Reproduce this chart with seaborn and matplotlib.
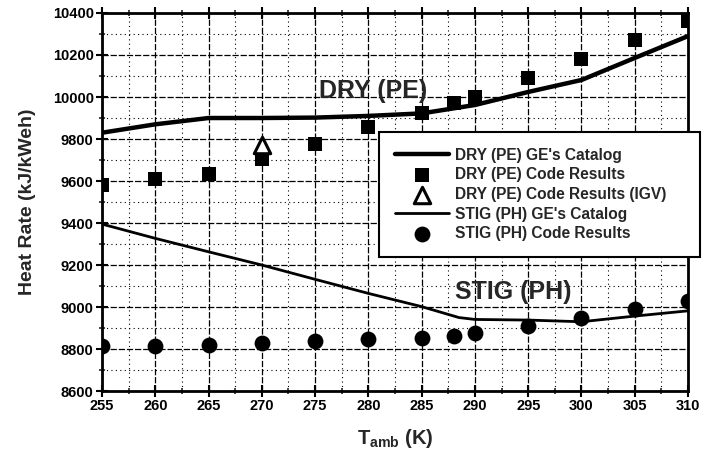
import matplotlib
matplotlib.use("Agg")
import matplotlib.pyplot as plt
import seaborn as sns
import numpy as np
import pandas as pd
from matplotlib.ticker import MultipleLocator

# ---- data ----
dry_cat_T = [255, 260, 265, 270, 275, 280, 285, 290, 295, 300, 305, 310]
dry_cat_HR = [9830, 9870, 9900, 9900, 9902, 9910, 9922, 9962, 10024, 10081, 10186, 10290]

stig_cat_T = [255, 260, 265, 270, 275, 280, 285, 288.5, 290, 295, 300, 305, 310]
stig_cat_HR = [9395, 9327, 9263, 9200, 9132, 9065, 9002, 8950, 8941, 8938, 8930, 8957, 8982]

code_T = [255, 260, 265, 270, 275, 280, 285, 288, 290, 295, 300, 305, 310]
dry_code_HR = [9580, 9610, 9635, 9705, 9775, 9855, 9925, 9970, 10002, 10089, 10180, 10271, 10363]
stig_code_HR = [8815, 8815, 8820, 8830, 8840, 8850, 8855, 8860, 8875, 8910, 8950, 8990, 9030]

igv_T = [270]
igv_HR = [9770]

x_ticks = [255, 260, 265, 270, 275, 280, 285, 290, 295, 300, 305, 310]
y_ticks = [8600, 8800, 9000, 9200, 9400, 9600, 9800, 10000, 10200, 10400]

sns.set_theme(style="ticks")
plt.rcParams['font.family'] = ['Liberation Sans', 'DejaVu Sans']
plt.rcParams['font.weight'] = 'bold'

fig = plt.figure(figsize=(7.11, 4.59), dpi=100)
ax = fig.add_axes([0.1435, 0.148, 0.8242, 0.8237])

sns.lineplot(x=dry_cat_T, y=dry_cat_HR, ax=ax, color='black', lw=3.2,
             label="DRY (PE) GE's Catalog", zorder=5)
sns.scatterplot(x=code_T, y=dry_code_HR, ax=ax, marker='s', s=100, color='black',
                edgecolor='black', linewidth=0, label="DRY (PE) Code Results", zorder=6)
sns.scatterplot(x=igv_T, y=igv_HR, ax=ax, marker='^', s=140, facecolor='white',
                edgecolor='black', linewidth=2.2, label="DRY (PE) Code Results (IGV)", zorder=7)
sns.lineplot(x=stig_cat_T, y=stig_cat_HR, ax=ax, color='black', lw=2.0,
             label="STIG (PH) GE's Catalog", zorder=5)
sns.scatterplot(x=code_T, y=stig_code_HR, ax=ax, marker='o', s=130, color='black',
                edgecolor='black', linewidth=0, label="STIG (PH) Code Results", zorder=6)

ax.set_xlim(255, 310)
ax.set_ylim(8600, 10400)
ax.set_xticks(x_ticks)
ax.set_yticks(y_ticks)
ax.set_xticklabels([str(t) for t in x_ticks])
ax.set_yticklabels([str(t) for t in y_ticks])
ax.xaxis.set_minor_locator(MultipleLocator(2.5))
ax.yaxis.set_minor_locator(MultipleLocator(100))

ax.grid(True, which='major', color='black', lw=0.9, linestyle=(0, (5, 1.5)))
ax.grid(True, which='minor', color='black', lw=0.8, linestyle=(0, (1, 3)))

for s in ax.spines.values():
    s.set_linewidth(2.0)
    s.set_color('black')

ax.tick_params(axis='both', which='major', direction='inout', length=8, width=1.5,
               labelsize=10.5, colors='black', pad=2)
ax.tick_params(axis='both', which='minor', direction='inout', length=5, width=1.2)
ax.tick_params(axis='x', which='both', top=True)
for lab in ax.get_xticklabels() + ax.get_yticklabels():
    lab.set_fontweight('bold')

ax.set_xlabel(r'T$_{\mathregular{amb}}$ (K)', fontsize=14.5, fontweight='bold', labelpad=10)
ax.set_ylabel('Heat Rate (kJ/kWeh)', fontsize=14, fontweight='bold', labelpad=12)

ax.text(280.4, 10030, 'DRY (PE)', fontsize=18, fontweight='heavy', ha='center', va='center', zorder=8)
ax.text(293.6, 9074, 'STIG (PH)', fontsize=18, fontweight='heavy', ha='center', va='center', zorder=8)

leg = ax.legend(loc='upper left', bbox_to_anchor=(0.473, 0.354, 0.548, 0.331), mode='expand',
                frameon=True, fancybox=False, edgecolor='black', framealpha=1, fontsize=11.2,
                handlelength=3.5, borderpad=1.0, labelspacing=0.3, handletextpad=0.4,
                borderaxespad=0)
leg.get_frame().set_linewidth(1.5)
leg.set_zorder(10)
for t in leg.get_texts():
    t.set_fontweight('bold')

fig.savefig('out.png', dpi=100)
